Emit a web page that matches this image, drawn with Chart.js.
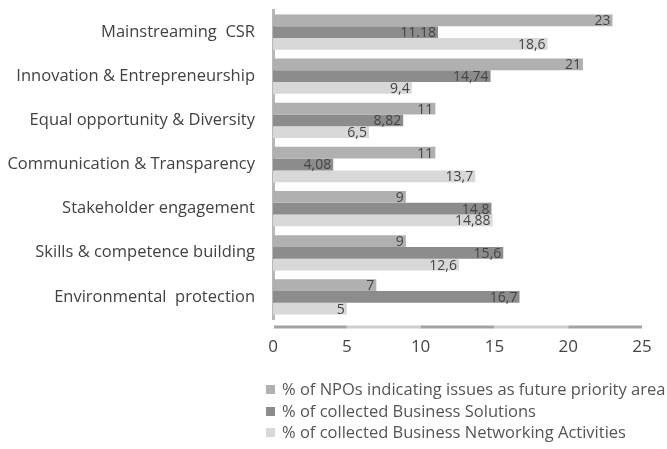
<!DOCTYPE html>
<html>
<head>
<meta charset="utf-8">
<script src="https://cdn.jsdelivr.net/npm/chart.js@4/dist/chart.umd.min.js"></script>
<style>
  html, body { margin: 0; padding: 0; background: #fff; }
  #wrap { position: relative; width: 667px; height: 449px; overflow: hidden; }
  #legend { position: absolute; left: 266px; top: 378px; font-family: 'Open Sans', sans-serif; font-size: 16.5px; color: #555; }
  #legend div { height: 21.5px; line-height: 21.5px; white-space: nowrap; }
  #legend span { display: inline-block; width: 9px; height: 9px; margin-right: 7px; vertical-align: 1px; }
</style>
</head>
<body>
<div id="wrap">
  <canvas id="chart" width="667" height="449"></canvas>
  <div id="legend"></div>
</div>
<script>
// categories, top to bottom
const categories = [
  'Mainstreaming  CSR',
  'Innovation & Entrepreneurship',
  'Equal opportunity & Diversity',
  'Communication & Transparency',
  'Stakeholder engagement',
  'Skills & competence building',
  'Environmental  protection'
];

const seriesNames = [
  '% of NPOs indicating issues as future priority area',
  '% of collected Business Solutions',
  '% of collected Business Networking Activities'
];

const npoPriority = [23, 21, 11, 11, 9, 9, 7];
const businessSolutions = [11.18, 14.74, 8.82, 4.08, 14.8, 15.6, 16.7];
const networkingActivities = [18.6, 9.4, 6.5, 13.7, 14.88, 12.6, 5];

// value labels as printed on the bars
const npoLabels = ['23', '21', '11', '11', '9', '9', '7'];
const solutionLabels = ['11.18', '14,74', '8,82', '4,08', '14,8', '15,6', '16,7'];
const networkingLabels = ['18,6', '9,4', '6,5', '13,7', '14,88', '12,6', '5'];

const xTicks = [0, 5, 10, 15, 20, 25];

const colors = ['#b0b0b0', '#8c8c8c', '#d8d8d8'];
const FONT = "'Open Sans', sans-serif";

// value text at the end of each bar
const barLabels = {
  id: 'barLabels',
  afterDatasetsDraw(chart) {
    const ctx = chart.ctx;
    ctx.save();
    ctx.font = '14px ' + FONT;
    ctx.fillStyle = '#444';
    ctx.textAlign = 'right';
    ctx.textBaseline = 'middle';
    chart.data.datasets.forEach((ds, di) => {
      chart.getDatasetMeta(di).data.forEach((bar, i) => {
        ctx.fillText(ds.valueLabels[i], bar.x - 2, bar.y + 1);
      });
    });
    ctx.restore();
  }
};

// thick striped x axis line below the plot
const axisBand = {
  id: 'axisBand',
  afterDraw(chart) {
    const ctx = chart.ctx;
    const x = chart.scales.x;
    const y = chart.chartArea.bottom + 8;
    ctx.save();
    ctx.lineWidth = 3;
    for (let i = 0; i < xTicks.length - 1; i++) {
      ctx.strokeStyle = i % 2 === 0 ? '#a3a3a3' : '#cdcdcd';
      ctx.beginPath();
      ctx.moveTo(x.getPixelForValue(xTicks[i]) + (i === 0 ? 1 : 0), y);
      ctx.lineTo(x.getPixelForValue(xTicks[i + 1]), y);
      ctx.stroke();
    }
    ctx.restore();
  }
};

const datasets = [npoPriority, businessSolutions, networkingActivities].map((vals, i) => ({
  label: seriesNames[i],
  data: vals,
  backgroundColor: colors[i],
  borderWidth: 0,
  valueLabels: [npoLabels, solutionLabels, networkingLabels][i],
  categoryPercentage: 0.8,
  barPercentage: 1.0
}));

new Chart(document.getElementById('chart'), {
  type: 'bar',
  data: { labels: categories, datasets },
  options: {
    indexAxis: 'y',
    responsive: false,
    animation: false,
    layout: { padding: { top: 10, right: 25, bottom: 90, left: 0 } },
    scales: {
      x: {
        min: 0,
        max: 25,
        afterBuildTicks: (s) => { s.ticks = xTicks.map(v => ({ value: v })); },
        afterFit: (s) => { s.height = 40; s.paddingLeft = 0; s.paddingRight = 0; },
        grid: { display: false, drawTicks: false },
        border: { display: false },
        ticks: { color: '#444', font: { family: FONT, size: 17 }, padding: 18 }
      },
      y: {
        afterFit: (s) => { s.width = 273; s.paddingTop = 0; s.paddingBottom = 0; },
        grid: { display: false, drawTicks: false },
        border: { display: true, color: '#b8b8b8', width: 3 },
        ticks: { color: '#424242', font: { family: FONT, size: 16.5 }, padding: 18 }
      }
    },
    plugins: {
      legend: { display: false },
      tooltip: { enabled: false }
    }
  },
  plugins: [barLabels, axisBand]
});

// legend, one series per line
const legend = document.getElementById('legend');
seriesNames.forEach((name, i) => {
  const row = document.createElement('div');
  row.innerHTML = `<span style="background:${colors[i]}"></span>${name}`;
  legend.appendChild(row);
});
</script>
</body>
</html>
